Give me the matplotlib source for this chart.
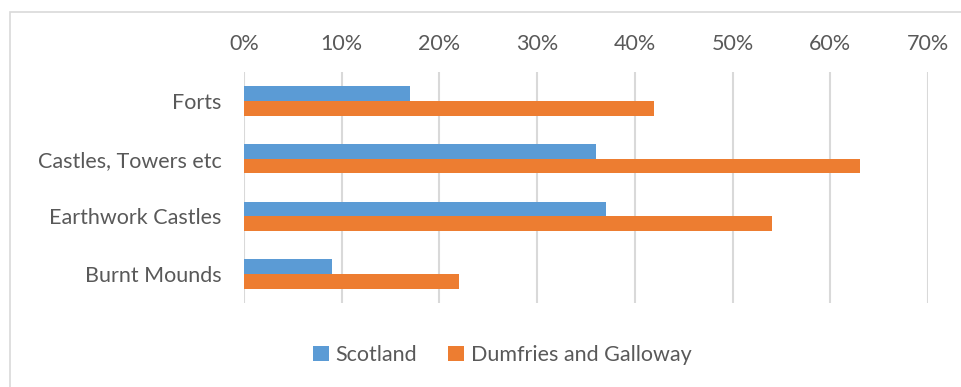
import matplotlib
matplotlib.use("Agg")
import matplotlib.pyplot as plt
import numpy as np
from matplotlib.patches import Rectangle

categories = ["Forts", "Castles, Towers etc", "Earthwork Castles", "Burnt Mounds"]
scotland = [17, 36, 37, 9]
dumfries = [42, 63, 54, 22]
series_names = ["Scotland", "Dumfries and Galloway"]
ticks = [0, 10, 20, 30, 40, 50, 60, 70]

blue = "#5B9BD5"
orange = "#ED7D31"
text_col = "#595959"
grid_col = "#D9D9D9"

plt.rcParams['font.family'] = ['Lato', 'DejaVu Sans']

fig = plt.figure(figsize=(9.62, 3.87), dpi=100)
ax = fig.add_axes([244/962, 1-303/387, (928-244)/962, (303-72)/387])

n = len(categories)
y = np.arange(n)
h = 0.255
ax.barh(y - h/2, scotland, height=h, color=blue, label=series_names[0], zorder=3)
ax.barh(y + h/2, dumfries, height=h, color=orange, label=series_names[1], zorder=3)

ax.set_xlim(0, 70)
ax.set_ylim(n - 0.5, -0.5)
ax.set_yticks(y)
ax.set_yticklabels(categories)
ax.set_xticks(ticks)
ax.set_xticklabels([f"{t}%" for t in ticks])
ax.xaxis.tick_top()
ax.tick_params(axis='both', length=0, labelsize=15.5, colors=text_col)
ax.tick_params(axis='x', pad=13)
ax.tick_params(axis='y', pad=16)
ax.grid(axis='x', color=grid_col, linewidth=1.5, zorder=0)
for s in ax.spines.values():
    s.set_visible(False)

leg = fig.legend(loc='center', bbox_to_anchor=(502/962, 1-355/387), ncol=2, frameon=False,
                 fontsize=15.5, handlelength=0.75, handleheight=0.75, handletextpad=0.3,
                 columnspacing=1.45)
for t in leg.get_texts():
    t.set_color(text_col)

# outer chart border
fig.patches.append(Rectangle((10/962, -0.01), 1.0, 1 - 12/387 + 0.01, transform=fig.transFigure,
                             fill=False, edgecolor="#D9D9D9", linewidth=1.2))

fig.savefig("out.png", dpi=100, facecolor="white")
